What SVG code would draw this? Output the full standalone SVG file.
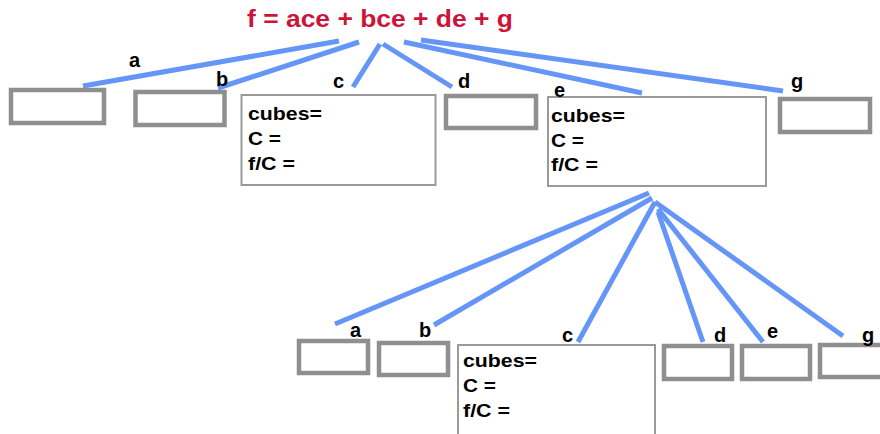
<svg xmlns="http://www.w3.org/2000/svg" width="880" height="434" viewBox="0 0 880 434">
  <style>
    .title { font-family: "Liberation Sans", Arial, sans-serif; font-weight: bold; font-size: 23px; fill: #cc1439; }
    .lbl { font-family: "Liberation Sans", Arial, sans-serif; font-weight: bold; font-size: 18px; fill: #000; }
    .var { font-family: "Liberation Sans", Arial, sans-serif; font-weight: bold; font-size: 20px; fill: #000; }
    .leaf { fill: #fff; stroke: #8f8f8f; stroke-width: 4.5; }
    .cell { fill: #fff; stroke: #9a9a9a; stroke-width: 2; }
    .edge { stroke: #6495f7; stroke-width: 5; fill: none; }
  </style>
  <rect width="880" height="434" fill="#fff"/>

  <text class="title" x="247" y="27" textLength="266" lengthAdjust="spacingAndGlyphs">f = ace + bce + de + g</text>

  <!-- connectors -->
  <g id="edges">
    <line class="edge" x1="339" y1="41" x2="83" y2="86"/>
    <line class="edge" x1="359" y1="42" x2="218" y2="88"/>
    <line class="edge" x1="380" y1="44" x2="353" y2="87"/>
    <line class="edge" x1="383" y1="44" x2="452" y2="87"/>
    <line class="edge" x1="404" y1="42" x2="642" y2="93"/>
    <line class="edge" x1="421" y1="40" x2="783" y2="91"/>

    <line class="edge" x1="649" y1="193" x2="335" y2="324"/>
    <line class="edge" x1="652" y1="198" x2="434" y2="325"/>
    <line class="edge" x1="655" y1="202" x2="578" y2="342"/>
    <line class="edge" x1="658" y1="212" x2="703" y2="342"/>
    <line class="edge" x1="658" y1="209" x2="763" y2="342"/>
    <line class="edge" x1="655" y1="202" x2="843" y2="336"/>
  </g>

  <!-- top row -->
  <g id="top-a">
    <rect class="leaf" x="11" y="90" width="93" height="33"/>
    <text class="var" x="129" y="67">a</text>
  </g>
  <g id="top-b">
    <rect class="leaf" x="135.5" y="92" width="89" height="33"/>
    <text class="var" x="216" y="86">b</text>
  </g>
  <g id="top-c">
    <rect class="cell" x="241.5" y="95" width="194" height="90"/>
    <text class="var" x="333" y="88">c</text>
    <text class="lbl" x="248" y="120" textLength="74" lengthAdjust="spacingAndGlyphs">cubes=</text>
    <text class="lbl" x="248" y="145" textLength="33" lengthAdjust="spacingAndGlyphs">C =</text>
    <text class="lbl" x="248" y="170" textLength="47" lengthAdjust="spacingAndGlyphs">f/C =</text>
  </g>
  <g id="top-d">
    <rect class="leaf" x="446" y="96" width="90" height="32"/>
    <text class="var" x="458" y="88">d</text>
  </g>
  <g id="top-e">
    <rect class="cell" x="548" y="97" width="218" height="89"/>
    <text class="var" x="554" y="97">e</text>
    <text class="lbl" x="551" y="122" textLength="74" lengthAdjust="spacingAndGlyphs">cubes=</text>
    <text class="lbl" x="551" y="147" textLength="33" lengthAdjust="spacingAndGlyphs">C =</text>
    <text class="lbl" x="551" y="171" textLength="47" lengthAdjust="spacingAndGlyphs">f/C =</text>
  </g>
  <g id="top-g">
    <rect class="leaf" x="780" y="99" width="90" height="33"/>
    <text class="var" x="791" y="88">g</text>
  </g>

  <!-- bottom row -->
  <g id="bot-a">
    <rect class="leaf" x="299" y="341" width="69" height="32"/>
    <text class="var" x="350" y="337">a</text>
  </g>
  <g id="bot-b">
    <rect class="leaf" x="379" y="343" width="69" height="32"/>
    <text class="var" x="419" y="337">b</text>
  </g>
  <g id="bot-c">
    <rect class="cell" x="458" y="345" width="197" height="110"/>
    <text class="var" x="562" y="342">c</text>
    <text class="lbl" x="463" y="367" textLength="74" lengthAdjust="spacingAndGlyphs">cubes=</text>
    <text class="lbl" x="463" y="392" textLength="33" lengthAdjust="spacingAndGlyphs">C =</text>
    <text class="lbl" x="463" y="417" textLength="47" lengthAdjust="spacingAndGlyphs">f/C =</text>
  </g>
  <g id="bot-d">
    <rect class="leaf" x="664" y="346" width="68" height="33"/>
    <text class="var" x="714" y="342">d</text>
  </g>
  <g id="bot-e">
    <rect class="leaf" x="742" y="346" width="68" height="33"/>
    <text class="var" x="767" y="338">e</text>
  </g>
  <g id="bot-g">
    <rect class="leaf" x="820" y="345" width="80" height="32"/>
    <text class="var" x="862" y="342">g</text>
  </g>
</svg>
